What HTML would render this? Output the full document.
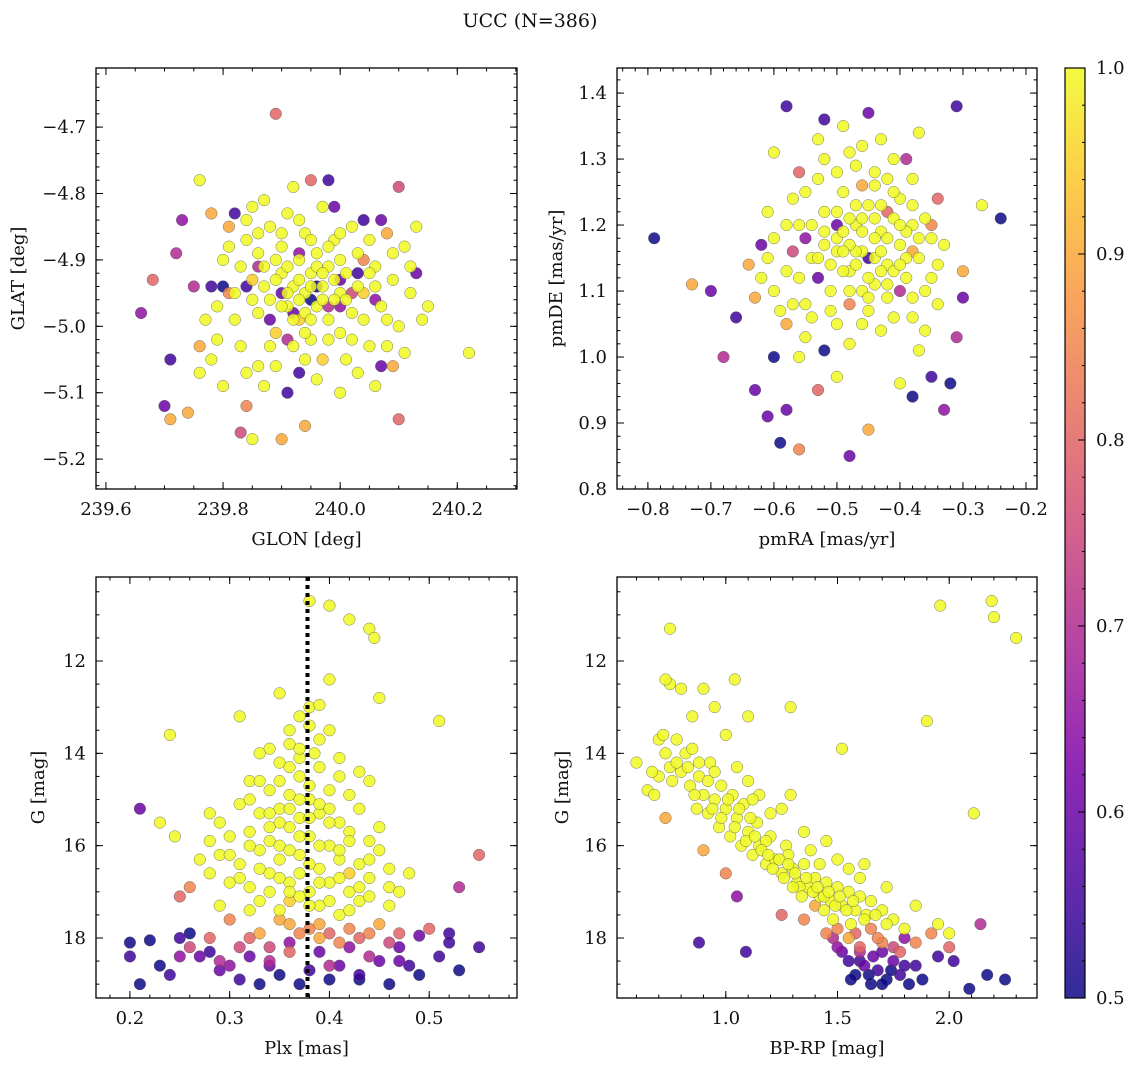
<!DOCTYPE html>
<html><head><meta charset="utf-8"><style>
body{margin:0;background:#fff}
svg{display:block}
text{font-family:"DejaVu Serif","Liberation Serif",serif;font-size:18px;fill:#111}
</style></head><body>
<svg id="fig" width="1136" height="1067" viewBox="0 0 1136 1067">
<text x="530" y="27" text-anchor="middle" style="font-size:19px">UCC (N=386)</text>
</svg>
<script>
// ---- data (estimated from reference) ----
const galacticPoints = [
[239.89,-4.68,0.8],[239.76,-4.78,1],[239.70,-5.12,0.6],[239.71,-5.14,0.9],[239.74,-5.13,0.9],[239.66,-4.98,0.65],[239.68,-4.93,0.8],[239.71,-5.05,0.55],[239.72,-4.89,0.7],[239.73,-4.84,0.65],[240.22,-5.04,1],[240.15,-4.97,1],[240.13,-4.92,0.6],[240.10,-4.79,0.75],[240.10,-5.14,0.8],[239.83,-5.16,0.75],[239.85,-5.17,1],[239.90,-5.17,0.9],[239.94,-5.15,0.9],[239.91,-5.10,0.55],[239.93,-5.07,0.55],[239.98,-4.78,0.55],[239.95,-4.78,0.8],[240.04,-4.84,0.55],[239.84,-5.12,0.85],[240.07,-5.06,0.6],[240.00,-5.10,1],[239.77,-4.99,1],[239.75,-4.94,0.7],
[239.80,-4.90,1],[239.82,-4.95,1],[239.84,-4.87,1],[239.85,-4.93,0.95],[239.86,-4.98,1],[239.87,-4.91,1],[239.88,-4.85,1],[239.88,-4.96,1],[239.89,-5.01,0.95],[239.90,-4.92,1],[239.90,-4.88,1],[239.91,-4.97,1],[239.92,-4.94,1],[239.92,-5.03,1],[239.93,-4.90,1],[239.93,-4.99,0.95],[239.94,-4.86,1],[239.94,-4.95,1],[239.95,-4.92,1],[239.95,-5.02,1],[239.96,-4.97,1],[239.96,-4.89,1],[239.97,-4.94,1],[239.97,-5.05,0.95],[239.98,-4.91,1],[239.98,-4.99,1],[239.99,-4.87,1],[240.00,-4.95,1],[240.00,-5.01,1],[240.01,-4.92,1],[240.02,-4.98,1],[240.03,-4.89,1],[240.04,-4.95,0.95],[240.05,-5.03,1],[240.06,-4.91,1],[240.07,-4.97,1],[240.08,-4.86,0.9],[240.09,-4.93,1],[240.10,-5.00,1],[240.11,-4.88,1],[240.12,-4.95,1],[239.83,-5.03,1],[239.81,-4.85,0.9],[239.79,-4.97,1],[239.78,-5.05,1],[239.86,-5.06,1],[239.91,-4.83,1],[239.97,-4.82,1],[240.02,-4.85,1],[240.05,-4.87,1],[240.08,-5.03,1],[240.11,-5.04,1],[240.13,-4.85,1],[239.76,-5.07,1],[239.80,-5.09,1],[239.87,-5.09,1],[239.92,-4.79,1],[239.85,-4.82,1],[239.96,-5.08,1],[240.01,-5.05,1],[239.78,-4.83,0.9],[239.76,-5.03,0.9],[240.09,-5.06,0.9],
[239.84,-4.94,0.55],[239.90,-4.95,0.6],[239.95,-4.96,0.5],[240.00,-4.93,0.6],[239.93,-4.89,0.65],[240.03,-4.92,0.55],[239.88,-4.99,0.6],[239.98,-4.97,0.7],[240.06,-4.96,0.65],[239.82,-4.83,0.55],[239.78,-4.94,0.55],[239.80,-4.94,0.5],[240.07,-4.84,0.6],[240.02,-4.95,0.75],[239.91,-5.02,0.7]
];
const galacticExtra = [
[239.89,-4.93,1],[239.91,-4.91,1],[239.93,-4.93,1],[239.95,-4.94,1],[239.97,-4.96,1],[239.99,-4.93,1],[240.01,-4.96,1],[239.90,-4.97,1],[239.92,-4.99,1],[239.94,-4.98,1],[239.96,-4.91,1],[239.98,-4.88,1],[240.00,-4.90,1],[239.87,-4.94,1],[239.86,-4.89,1],[239.89,-4.90,1],[239.91,-4.95,1],[239.93,-4.96,1],[239.95,-4.99,1],[239.97,-4.92,1],[239.99,-4.96,1],[240.03,-4.94,1],[240.05,-4.92,1],[240.04,-4.99,1],[240.06,-4.94,1],[239.85,-4.96,1],[239.83,-4.91,1],[239.82,-4.99,1],[239.88,-5.03,1],[239.94,-5.01,1],[239.98,-5.02,1],[240.02,-5.02,1],[239.90,-4.86,1],[239.95,-4.87,1],[240.00,-4.86,1],[239.87,-4.81,1],[239.93,-4.84,1],[239.81,-4.88,1],[240.09,-4.89,1],[240.12,-4.91,1],[240.14,-4.99,1],[240.08,-4.99,1],[239.79,-5.02,1],[239.84,-5.07,1],[239.89,-5.06,1],[239.94,-5.05,1],[240.03,-5.07,1],[240.06,-5.09,1],[239.84,-4.84,1],[239.86,-4.86,1],
[239.96,-4.94,0.5],[239.92,-4.98,0.6],[240.00,-4.97,0.65],[239.86,-4.91,0.7],[239.99,-4.82,0.6],[240.04,-4.90,0.85],[239.81,-4.95,0.85]
];
const properMotionPoints = [
[-0.79,1.18,0.5],[-0.73,1.11,0.9],[-0.70,1.10,0.6],[-0.68,1.00,0.7],[-0.66,1.06,0.55],[-0.63,0.95,0.6],[-0.61,0.91,0.6],[-0.59,0.87,0.5],[-0.58,0.92,0.6],[-0.56,0.86,0.85],[-0.48,0.85,0.6],[-0.45,0.89,0.9],[-0.38,0.94,0.5],[-0.33,0.92,0.65],[-0.32,0.96,0.5],[-0.24,1.21,0.5],[-0.27,1.23,1],[-0.31,1.38,0.55],[-0.58,1.38,0.55],[-0.52,1.36,0.55],[-0.45,1.37,0.6],[-0.37,1.34,1],[-0.39,1.30,0.7],[-0.60,1.31,1],[-0.62,1.17,0.6],[-0.64,1.14,0.9],[-0.60,1.00,0.5],[-0.52,1.01,0.5],[-0.35,0.97,0.55],[-0.30,1.09,0.6],[-0.30,1.13,0.9],[-0.31,1.03,0.7],[-0.63,1.09,0.9],[-0.61,1.22,1],[-0.56,1.28,0.8],[-0.34,1.24,0.8],[-0.37,1.01,1],[-0.40,0.96,1],[-0.50,0.97,1],[-0.53,0.95,0.8],[-0.58,1.05,0.9],
[-0.56,1.20,1],[-0.54,1.15,1],[-0.52,1.22,1],[-0.51,1.10,1],[-0.50,1.18,1],[-0.49,1.25,1],[-0.48,1.13,1],[-0.47,1.20,1],[-0.46,1.16,1],[-0.45,1.23,1],[-0.44,1.11,1],[-0.43,1.19,1],[-0.42,1.14,1],[-0.41,1.21,1],[-0.40,1.17,1],[-0.39,1.12,1],[-0.38,1.20,1],[-0.37,1.15,1],[-0.55,1.08,1],[-0.53,1.27,1],[-0.50,1.05,1],[-0.47,1.29,1],[-0.45,1.07,1],[-0.44,1.26,1],[-0.42,1.09,1],[-0.40,1.24,1],[-0.36,1.10,1],[-0.35,1.18,1],[-0.58,1.13,1],[-0.60,1.18,1],[-0.57,1.24,1],[-0.48,1.02,1],[-0.46,1.32,1],[-0.43,1.04,1],[-0.41,1.30,1],[-0.38,1.06,1],[-0.34,1.14,1],[-0.62,1.12,1],[-0.59,1.07,1],[-0.53,1.33,1],[-0.49,1.35,1],[-0.52,1.17,1],[-0.46,1.10,1],[-0.44,1.18,1],[-0.48,1.21,1],[-0.51,1.14,1],[-0.39,1.19,1],[-0.42,1.27,1],[-0.55,1.03,1],[-0.36,1.04,1],[-0.47,1.16,1],[-0.43,1.23,1],[-0.49,1.19,1],
[-0.50,1.20,0.6],[-0.45,1.15,0.55],[-0.55,1.18,0.65],[-0.42,1.22,0.8],[-0.48,1.08,0.85],[-0.40,1.10,0.7],[-0.53,1.12,0.6],[-0.38,1.16,0.9],[-0.46,1.26,0.9],[-0.35,1.20,0.85],[-0.57,1.16,0.75]
];
const properMotionExtra = [
[-0.50,1.16,1],[-0.49,1.13,1],[-0.48,1.17,1],[-0.47,1.14,1],[-0.46,1.19,1],[-0.45,1.12,1],[-0.44,1.15,1],[-0.43,1.16,1],[-0.42,1.18,1],[-0.41,1.13,1],[-0.40,1.20,1],[-0.44,1.21,1],[-0.47,1.23,1],[-0.50,1.22,1],[-0.52,1.19,1],[-0.53,1.15,1],[-0.54,1.20,1],[-0.48,1.10,1],[-0.45,1.09,1],[-0.42,1.11,1],[-0.39,1.15,1],[-0.37,1.18,1],[-0.36,1.21,1],[-0.38,1.23,1],[-0.41,1.25,1],[-0.44,1.28,1],[-0.50,1.28,1],[-0.52,1.30,1],[-0.56,1.12,1],[-0.57,1.08,1],[-0.54,1.06,1],[-0.51,1.07,1],[-0.46,1.05,1],[-0.41,1.06,1],[-0.38,1.09,1],[-0.35,1.12,1],[-0.33,1.17,1],[-0.34,1.08,1],[-0.60,1.10,1],[-0.61,1.15,1],[-0.58,1.20,1],[-0.49,1.16,1],[-0.43,1.13,1],[-0.40,1.14,1],[-0.46,1.21,1],[-0.55,1.25,1],[-0.48,1.31,1],[-0.43,1.33,1],[-0.38,1.27,1],[-0.56,1.00,1]
];
const parallaxPoints = [
[0.38,10.7,1],[0.40,10.8,1],[0.42,11.1,1],[0.44,11.3,1],[0.445,11.5,1],[0.35,12.7,1],[0.40,12.4,1],[0.45,12.8,1],[0.51,13.3,1],[0.24,13.6,1],[0.31,13.2,1],[0.21,15.2,0.6],[0.23,15.5,1],[0.245,15.8,1],[0.28,15.3,1],[0.55,16.2,0.8],[0.53,16.9,0.7],[0.26,16.9,0.85],[0.25,17.1,0.8],
[0.34,13.9,1],[0.36,13.5,1],[0.37,13.2,1],[0.38,13.0,1],[0.39,12.95,1],[0.33,14.0,1],[0.35,14.2,1],[0.37,14.5,1],[0.39,14.3,1],[0.41,14.1,1],[0.32,14.6,1],[0.34,14.8,1],[0.36,14.9,1],[0.38,15.0,1],[0.40,14.8,1],[0.42,14.9,1],[0.31,15.1,1],[0.33,15.3,1],[0.35,15.2,1],[0.37,15.4,1],[0.39,15.3,1],[0.41,15.5,1],[0.43,15.2,1],[0.30,15.8,1],[0.32,15.7,1],[0.34,15.9,1],[0.36,15.6,1],[0.38,15.8,1],[0.40,16.0,1],[0.42,15.7,1],[0.44,15.9,1],[0.29,16.2,1],[0.31,16.4,1],[0.33,16.1,1],[0.35,16.3,1],[0.37,16.2,1],[0.39,16.5,1],[0.41,16.3,1],[0.43,16.4,1],[0.45,16.1,1],[0.30,16.8,1],[0.32,16.9,1],[0.34,16.6,1],[0.36,16.8,1],[0.38,17.0,1],[0.40,16.8,1],[0.42,17.0,1],[0.44,16.7,1],[0.46,16.9,1],[0.29,17.3,1],[0.33,17.2,1],[0.35,17.4,1],[0.37,17.1,1],[0.39,17.3,1],[0.41,17.5,1],[0.43,17.2,1],[0.47,17.0,1],[0.36,13.8,1],[0.385,14.0,1],[0.32,15.0,1],[0.44,14.6,1],[0.45,15.6,1],[0.48,16.6,1],[0.28,15.9,1],[0.27,16.3,1],[0.35,16.0,1],[0.38,16.4,1],[0.40,15.5,1],[0.36,17.2,0.95],[0.42,16.6,0.95],
[0.35,17.6,0.9],[0.39,17.7,0.9],[0.42,17.8,0.85],[0.45,17.7,0.9],[0.33,17.9,0.9],[0.37,17.9,0.85],[0.41,18.1,0.85],[0.47,17.9,0.8],[0.28,18.0,0.8],[0.31,18.2,0.75],[0.36,18.3,0.8],[0.50,17.8,0.8],[0.26,18.2,0.75],[0.30,17.6,0.85],[0.44,18.4,0.7],[0.40,18.6,0.7],[0.34,18.5,0.7],
[0.20,18.1,0.5],[0.22,18.05,0.5],[0.20,18.4,0.55],[0.23,18.6,0.5],[0.24,18.8,0.55],[0.21,19.0,0.5],[0.25,18.0,0.55],[0.27,18.4,0.6],[0.29,18.7,0.6],[0.31,18.9,0.55],[0.33,19.0,0.5],[0.35,18.8,0.5],[0.37,19.0,0.5],[0.38,18.7,0.55],[0.41,18.6,0.6],[0.43,18.8,0.55],[0.46,19.0,0.5],[0.48,18.6,0.55],[0.49,18.8,0.5],[0.51,18.4,0.55],[0.53,18.7,0.5],[0.55,18.2,0.55],[0.52,17.9,0.55],[0.47,18.2,0.6],[0.45,18.5,0.6],[0.39,18.3,0.6],[0.32,18.4,0.6],[0.28,18.3,0.55],[0.26,17.9,0.5],[0.30,18.6,0.65],[0.42,18.2,0.65],[0.49,17.95,0.6],[0.36,18.1,0.65]
];
const parallaxExtra = [
[0.35,14.6,1],[0.37,14.1,1],[0.36,14.3,1],[0.38,14.7,1],[0.39,15.1,1],[0.37,15.0,1],[0.35,15.5,1],[0.36,15.2,1],[0.38,15.4,1],[0.40,15.2,1],[0.34,15.6,1],[0.37,15.8,1],[0.39,16.0,1],[0.41,16.1,1],[0.36,16.1,1],[0.33,16.5,1],[0.35,16.7,1],[0.37,16.6,1],[0.39,16.8,1],[0.41,16.7,1],[0.43,16.9,1],[0.34,17.0,1],[0.36,17.0,1],[0.38,17.3,1],[0.40,17.2,1],[0.42,17.4,1],[0.44,17.1,1],[0.32,17.4,1],[0.31,16.7,1],[0.30,16.2,1],[0.32,16.0,1],[0.34,15.3,1],[0.33,14.6,1],[0.39,13.7,1],[0.40,13.5,1],[0.38,13.4,1],[0.37,13.9,1],[0.41,14.5,1],[0.43,14.4,1],[0.42,15.9,1],[0.44,16.3,1],[0.46,16.5,1],[0.46,17.3,1],[0.28,16.6,1],[0.29,15.5,1],
[0.38,17.8,0.85],[0.40,17.9,0.8],[0.43,18.0,0.8],[0.46,18.1,0.75],[0.34,18.2,0.75],[0.32,18.0,0.8],[0.39,18.0,0.9],[0.44,17.9,0.85],[0.36,17.7,0.9],[0.29,18.5,0.7],[0.25,18.4,0.65],[0.47,18.5,0.6],[0.52,18.1,0.55],[0.43,18.9,0.5],[0.40,18.9,0.5],[0.34,18.6,0.6]
];
const colourMagPoints = [
[0.60,14.2,1],[0.65,14.8,1],[0.68,14.9,1],[0.70,13.7,1],[0.72,13.6,1],[0.73,14.0,1],[0.75,14.3,1],[0.78,13.7,1],[0.80,14.4,1],[0.82,14.0,1],[0.84,14.7,1],[0.85,13.9,1],[0.87,15.2,1],[0.88,14.5,1],[0.90,14.9,1],[0.92,15.3,1],[0.93,14.2,1],[0.95,15.0,1],[0.97,15.6,1],[0.98,14.7,1],[1.00,15.2,1],[1.02,15.8,1],[1.03,14.9,1],[1.05,15.4,1],[1.07,16.0,1],[1.08,15.1,1],[1.10,15.7,1],[1.12,16.2,1],[1.14,15.5,1],[1.15,16.0,1],[1.18,16.4,1],[1.20,15.8,1],[1.22,16.3,1],[1.25,16.6,1],[1.27,16.0,1],[1.30,16.5,1],[1.32,16.8,1],[1.35,16.4,1],[1.37,16.9,1],[1.40,16.7,1],[1.42,17.1,1],[1.45,16.8,1],[1.47,17.2,1],[1.50,16.9,1],[1.52,17.3,1],[1.55,17.0,1],[1.58,17.4,1],[1.60,17.1,1],[1.63,17.5,1],[1.65,17.2,1],[1.70,17.4,1],[1.75,17.6,1],[1.80,17.8,1],[1.45,15.9,1],[1.50,16.3,1],[1.55,16.5,1],[1.60,16.7,1],[1.35,15.7,1],[1.25,15.2,1],[0.80,12.6,1],[0.75,12.5,1],[0.90,12.6,1],[0.95,13.0,1],[0.85,13.2,1],[1.0,13.6,1],[1.05,14.3,1],[1.10,14.6,1],[1.15,14.9,1],[1.20,15.3,1],[1.29,14.9,1],[1.38,16.1,1],[1.62,16.4,1],[1.72,16.9,1],[1.85,17.3,1],[1.95,17.7,1],[2.0,17.9,1],[1.12,15.0,1],[1.28,16.2,1],[1.42,16.4,1],[0.95,14.4,1],[1.18,15.9,1],
[0.75,11.3,1],[1.04,12.4,1],[0.73,12.4,1],[1.10,13.2,1],[1.29,13.0,1],[1.52,13.9,1],[1.96,10.8,1],[2.19,10.7,1],[2.20,11.05,1],[2.30,11.5,1],[1.90,13.3,1],[2.11,15.3,1],
[0.73,15.4,0.9],[0.90,16.1,0.9],[1.0,16.6,0.85],[1.25,17.5,0.8],[1.35,17.6,0.85],[1.45,17.9,0.85],[1.55,18.0,0.9],[1.65,17.8,0.85],[1.70,18.1,0.85],[1.78,18.3,0.8],[1.85,18.1,0.85],[1.92,17.9,0.85],[2.0,18.2,0.8],[1.40,17.3,0.9],[1.60,18.2,0.8],
[0.88,18.1,0.55],[1.09,18.3,0.55],[1.05,17.1,0.65],[1.55,18.5,0.55],[1.58,18.8,0.5],[1.62,18.6,0.6],[1.65,19.0,0.5],[1.68,18.7,0.55],[1.72,18.9,0.5],[1.75,18.5,0.6],[1.78,18.8,0.55],[1.82,19.0,0.5],[1.85,18.6,0.55],[1.88,18.9,0.5],[1.70,18.3,0.6],[1.50,18.2,0.65],[1.95,18.4,0.55],[2.02,18.5,0.55],[2.09,19.1,0.5],[2.17,18.8,0.5],[2.25,18.9,0.5],[2.14,17.7,0.7],[1.80,18.0,0.65],[1.60,18.3,0.7],[1.48,18.0,0.7]
];
const colourMagExtra = [
[0.98,15.4,1],[1.01,15.0,1],[1.04,15.6,1],[1.06,15.2,1],[1.09,15.9,1],[1.11,15.4,1],[1.13,15.8,1],[1.16,16.1,1],[1.19,16.2,1],[1.21,16.5,1],[1.24,16.3,1],[1.26,16.7,1],[1.28,16.4,1],[1.31,16.6,1],[1.33,16.9,1],[1.36,16.7,1],[1.39,17.0,1],[1.41,16.9,1],[1.44,17.1,1],[1.46,17.0,1],[1.49,17.3,1],[1.51,17.1,1],[1.54,17.4,1],[1.57,17.2,1],[1.62,17.6,1],[1.67,17.5,1],[1.72,17.7,1],[0.92,14.6,1],[0.88,14.2,1],[0.86,14.9,1],[0.94,15.2,1],[0.83,14.3,1],[0.78,14.2,1],[0.76,14.6,1],[0.70,14.5,1],[0.67,14.4,1],[1.30,16.9,1],[1.34,17.1,1],[1.44,17.4,1],[1.48,17.6,1],[1.56,17.7,1],
[1.50,17.8,0.85],[1.58,17.9,0.8],[1.68,18.0,0.85],[1.75,18.2,0.75],[1.52,18.3,0.6],[1.60,18.5,0.55],[1.66,18.4,0.6],[1.74,18.7,0.5],[1.64,18.8,0.5],[1.70,19.0,0.5],[1.80,18.6,0.55],[1.56,18.9,0.5]
];
const glonTicks=[239.6,239.8,240.0,240.2], glatTicks=[-4.7,-4.8,-4.9,-5.0,-5.1,-5.2];
const pmraTicks=[-0.8,-0.7,-0.6,-0.5,-0.4,-0.3,-0.2], pmdeTicks=[0.8,0.9,1.0,1.1,1.2,1.3,1.4];
const plxTicks=[0.2,0.3,0.4,0.5], gTicks=[12,14,16,18], bprpTicks=[1.0,1.5,2.0];
const cbarTicks=[0.5,0.6,0.7,0.8,0.9,1.0];
const plxCut=0.378;

const NS="http://www.w3.org/2000/svg";
const svg=document.getElementById('fig');
function el(tag,attrs,parent){const e=document.createElementNS(NS,tag);for(const k in attrs)e.setAttribute(k,attrs[k]);(parent||svg).appendChild(e);return e;}
const stops=[[0,[13,8,135]],[0.125,[75,3,161]],[0.25,[125,3,168]],[0.375,[168,34,150]],[0.5,[203,70,121]],[0.625,[229,107,93]],[0.75,[248,148,65]],[0.875,[253,195,40]],[1,[240,249,33]]];
function plasma(t){t=Math.max(0,Math.min(1,t));for(let i=1;i<stops.length;i++){if(t<=stops[i][0]){const a=stops[i-1],b=stops[i],f=(t-a[0])/(b[0]-a[0]);const c=a[1].map((v,j)=>Math.round(v+(b[1][j]-v)*f));return `rgb(${c})`;}}return 'rgb(240,249,33)';}
function pcol(p){return plasma((p-0.5)/0.5);}
function fmt(v,d){return (v<0?'\u2212':'')+Math.abs(v).toFixed(d);}

function panel(cfg){
  const g=el('g',{});
  
  
  const X=v=>cfg.px0+(v-cfg.d0)/(cfg.d1-cfg.d0)*(cfg.px1-cfg.px0);
  const Y=v=>cfg.py1-(v-cfg.r0)/(cfg.r1-cfg.r0)*(cfg.py1-cfg.py0);
  const pts=cfg.pts.slice().sort((a,b)=>a[2]-b[2]);
  const pg=el('g',{},g);
  
  
  pts.forEach(p=>{
    const c=el('circle',{cx:X(p[0]),cy:Y(p[1]),r:5.8,fill:pcol(p[2]),'fill-opacity':0.85,stroke:'#555','stroke-width':0.4},pg);
    
    
  });
  if(cfg.vline!==undefined){
    const l=el('line',{x1:X(cfg.vline),x2:X(cfg.vline),y1:cfg.py0,y2:cfg.py1,stroke:'#000','stroke-width':4,'stroke-dasharray':'4 4'},g);
    
    
  }
  const fr=el('rect',{x:cfg.px0,y:cfg.py0,width:cfg.px1-cfg.px0,height:cfg.py1-cfg.py0,fill:'none',stroke:'#000','stroke-width':1.3},g);
  
  
  const tk=el('g',{stroke:'#000','stroke-width':1},g);
  const lo=Math.min(cfg.d0,cfg.d1),hi=Math.max(cfg.d0,cfg.d1);
  for(let i=Math.ceil(lo/cfg.xm-1e-6);i*cfg.xm<=hi+1e-9;i++){const x=X(i*cfg.xm);el('line',{x1:x,x2:x,y1:cfg.py1,y2:cfg.py1-3.5},tk);el('line',{x1:x,x2:x,y1:cfg.py0,y2:cfg.py0+3.5},tk);}
  cfg.xt.forEach(v=>{const x=X(v);el('line',{x1:x,x2:x,y1:cfg.py1,y2:cfg.py1-7},tk);el('line',{x1:x,x2:x,y1:cfg.py0,y2:cfg.py0+7},tk);
    const t=el('text',{x:x,y:cfg.py1+26,'text-anchor':'middle'},g);t.textContent=fmt(v,cfg.xd);
    
    });
  const rlo=Math.min(cfg.r0,cfg.r1),rhi=Math.max(cfg.r0,cfg.r1);
  for(let i=Math.ceil(rlo/cfg.ym-1e-6);i*cfg.ym<=rhi+1e-9;i++){const y=Y(i*cfg.ym);el('line',{x1:cfg.px0,x2:cfg.px0+3.5,y1:y,y2:y},tk);el('line',{x1:cfg.px1,x2:cfg.px1-3.5,y1:y,y2:y},tk);}
  cfg.yt.forEach(v=>{const y=Y(v);el('line',{x1:cfg.px0,x2:cfg.px0+7,y1:y,y2:y},tk);el('line',{x1:cfg.px1,x2:cfg.px1-7,y1:y,y2:y},tk);
    const t=el('text',{x:cfg.px0-10,y:y+6,'text-anchor':'end'},g);t.textContent=fmt(v,cfg.yd);
    
    });
  const xl=el('text',{x:(cfg.px0+cfg.px1)/2,y:cfg.py1+56,'text-anchor':'middle'},g);xl.textContent=cfg.xlabel;
  
  
  const yx=cfg.ylx, yy=(cfg.py0+cfg.py1)/2;
  const yl=el('text',{x:yx,y:yy,'text-anchor':'middle',transform:`rotate(-90 ${yx} ${yy})`},g);yl.textContent=cfg.ylabel;
  
  
}
panel({name:'glon-glat-panel',pts:galacticPoints.concat(galacticExtra),px0:96,px1:517,py0:68,py1:489,d0:239.583,d1:240.302,r0:-5.245,r1:-4.611,xt:glonTicks,xd:1,xm:0.05,yt:glatTicks,yd:1,ym:0.02,xlabel:'GLON [deg]',ylabel:'GLAT [deg]',ylx:24});
panel({name:'pm-panel',pts:properMotionPoints.concat(properMotionExtra),px0:617,px1:1037,py0:68,py1:489,d0:-0.849,d1:-0.1825,r0:0.8,r1:1.438,xt:pmraTicks,xd:1,xm:0.02,yt:pmdeTicks,yd:1,ym:0.02,xlabel:'pmRA [mas/yr]',ylabel:'pmDE [mas/yr]',ylx:562});
panel({name:'plx-g-panel',pts:parallaxPoints.concat(parallaxExtra),px0:96,px1:517,py0:577,py1:998,d0:0.166,d1:0.588,r0:19.30,r1:10.18,xt:plxTicks,xd:1,xm:0.02,yt:gTicks,yd:0,ym:0.5,xlabel:'Plx [mas]',ylabel:'G [mag]',ylx:44,vline:plxCut});
panel({name:'cmd-panel',pts:colourMagPoints.concat(colourMagExtra),px0:617,px1:1037,py0:577,py1:998,d0:0.513,d1:2.393,r0:19.30,r1:10.18,xt:bprpTicks,xd:1,xm:0.1,yt:gTicks,yd:0,ym:0.5,xlabel:'BP-RP [mag]',ylabel:'G [mag]',ylx:568});

const cb=el('g',{});


const defs=el('defs',{},cb);
const lg=el('linearGradient',{id:'cbg',x1:0,y1:1,x2:0,y2:0},defs);
for(let i=0;i<=20;i++){const t=i/20;el('stop',{offset:t,'stop-color':plasma(t)},lg);}
el('rect',{x:1065,y:68,width:20,height:930,fill:'url(#cbg)','fill-opacity':0.85},cb);
el('rect',{x:1065,y:68,width:20,height:930,fill:'none',stroke:'#000','stroke-width':1.2},cb);
const CY=v=>998-(v-0.5)/0.5*930;
for(let i=25;i<=50;i++){const v=i*0.02;el('line',{x1:1085,x2:1082,y1:CY(v),y2:CY(v),stroke:'#000'},cb);}
cbarTicks.forEach(v=>{el('line',{x1:1085,x2:1078,y1:CY(v),y2:CY(v),stroke:'#000'},cb);
  const t=el('text',{x:1096,y:CY(v)+6},cb);t.textContent=v.toFixed(1);
  
  });
</script>
</body></html>
